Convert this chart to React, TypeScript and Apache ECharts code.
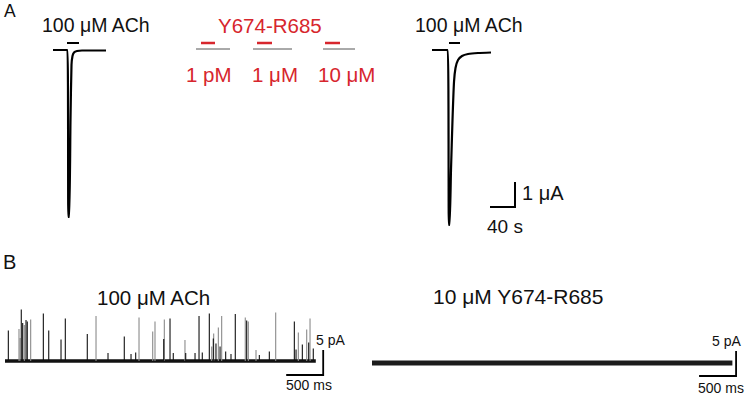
import React, { useEffect, useRef } from "react";
import * as echarts from "echarts";

// ---------- Panel A (time in s, current in µA) ----------
const achLeftTrace: [number, number][] = [
  [0, 0], [23.2, 0], [24.5, -6.68], [26.1, -6.68], [28, -2.8], [29.6, -0.6],
  [31.2, -0.24], [33.6, -0.1], [38.4, -0.04], [46.4, -0.02], [84.8, -0.02],
];
const achRightTrace: [number, number][] = [
  [606.4, 0], [631.7, 0], [633.3, -7.0], [634.6, -7.0], [636.8, -4.8], [639.2, -2.8],
  [641.6, -1.28], [644, -0.72], [648, -0.4], [654.4, -0.24], [664, -0.16],
  [680, -0.12], [700.8, -0.1],
];
const achApplications: [number, number][] = [[22.4, 41.6], [633.6, 651.2]];
const peptideApplications: [number, number][] = [[236.8, 259.2], [326.4, 350.4], [435.2, 459.2]];
const peptideTraces: [number, number][] = [[228.8, 283.2], [320, 382.4], [432, 483.2]];
const peptideDoses = ["1 pM", "1 \u03bcM", "10 \u03bcM"];
const scaleA = { t0: 699.2, t1: 739.2, v0: -6.28, v1: -5.28 }; // 40 s, 1 µA

// ---------- Panel B (time in ms, current in pA) ----------
const spikesDark: [number, number][] = [
  [45, 6.1], [220, 10.3], [239, 7.6], [284, 8.2], [301, 7.9], [518, 9.5], [591, 6.1],
  [757, 4.3], [815, 8.5], [1112, 5.4], [1392, 1.6], [1612, 4.9], [1703, 1.4], [1766, 1.7],
  [2145, 4.4], [2230, 8.5], [2274, 1.6], [2442, 1.6], [2568, 1.6], [2622, 9.0], [2666, 1.7],
  [2761, 9.5], [2815, 4.5], [2851, 3.5], [2906, 2.9], [2982, 1.9], [3054, 1.4], [3112, 9.4],
  [3266, 8.1], [3437, 1.2], [3572, 1.9], [3910, 7.9], [3933, 2.3], [4018, 3.3], [4104, 3.7],
  [4166, 2.5],
];
const spikesLight: [number, number][] = [
  [189, 6.4], [203, 4.6], [261, 7.2], [347, 8.3], [1230, 9.0], [1811, 8.7], [1996, 5.9],
  [2027, 7.9], [2153, 8.3], [2432, 4.2], [2793, 2.9], [2820, 5.5], [2883, 6.7], [2928, 9.0],
  [3247, 8.7], [3288, 7.9], [3392, 2.2], [3658, 9.7], [3964, 5.7], [4077, 6.3], [4122, 8.5],
];
const bLeftDuration = 4200;
const bRightDuration = 4870;
const scaleBLeft = { t0: 3800, t1: 4300, v0: -2.8, v1: 2.2 }; // 500 ms, 5 pA
const scaleBRight = { t0: 4420, t1: 4920, v0: -2.6, v1: 2.4 };

const RED = "#d7262d";
const FONT = "Liberation Sans";

function seg(data: [number, number][], grid: number, color: string, width: number, z = 2) {
  return {
    type: "line",
    xAxisIndex: grid,
    yAxisIndex: grid,
    data,
    symbol: "none",
    silent: true,
    z,
    lineStyle: { color, width, cap: "butt", join: "miter" },
  };
}

function spikeSeries(data: [number, number][], color: string) {
  return {
    type: "custom",
    xAxisIndex: 1,
    yAxisIndex: 1,
    silent: true,
    z: 3,
    encode: { x: 0, y: 1 },
    data,
    renderItem: (_p: any, api: any) => {
      const t = api.value(0);
      const a = api.value(1);
      const p0 = api.coord([t, 0]);
      const p1 = api.coord([t, a]);
      return {
        type: "line",
        shape: { x1: p0[0], y1: p0[1], x2: p1[0], y2: p1[1] },
        style: { stroke: color, lineWidth: 1.1 },
      };
    },
  };
}

function txt(text: string, x: number, y: number, size: number, color = "#111", align = "left") {
  return {
    type: "text",
    x,
    y,
    silent: true,
    style: { text, fill: color, fontSize: size, fontFamily: FONT, textAlign: align, textVerticalAlign: "middle" },
  };
}

export default function App() {
  const ref = useRef<HTMLDivElement>(null);
  useEffect(() => {
    if (!ref.current) return;
    const chart = echarts.init(ref.current, null, { renderer: "svg" });
    const hidden = { show: false };
    const series: any[] = [];
    // Panel A
    series.push({ ...seg(achLeftTrace, 0, "#000", 2.2), smooth: 0.2 });
    series.push({ ...seg(achRightTrace, 0, "#000", 2.2), smooth: 0.2 });
    achApplications.forEach(([a, b]) => series.push(seg([[a, 0.28], [b, 0.28]], 0, "#000", 2)));
    peptideApplications.forEach(([a, b]) => series.push(seg([[a, 0.28], [b, 0.28]], 0, RED, 2.4)));
    peptideTraces.forEach(([a, b]) => series.push(seg([[a, 0.04], [b, 0.04]], 0, "#555", 1)));
    series.push(seg([[scaleA.t0, scaleA.v0], [scaleA.t1, scaleA.v0], [scaleA.t1, scaleA.v1]], 0, "#000", 2));
    // Panel B left
    series.push(seg([[0, 0], [bLeftDuration, 0]], 1, "#111", 3.5));
    series.push(spikeSeries(spikesLight, "#8a8a8a"));
    series.push(spikeSeries(spikesDark, "#111"));
    series.push(seg([[scaleBLeft.t0, scaleBLeft.v0], [scaleBLeft.t1, scaleBLeft.v0], [scaleBLeft.t1, scaleBLeft.v1]], 1, "#000", 1.8));
    // Panel B right
    series.push(seg([[0, 0], [bRightDuration, 0]], 2, "#1c1c1c", 5));
    series.push(seg([[scaleBRight.t0, scaleBRight.v0], [scaleBRight.t1, scaleBRight.v0], [scaleBRight.t1, scaleBRight.v1]], 2, "#000", 1.8));

    const doseX = [186, 252, 318];
    chart.setOption({
      animation: false,
      backgroundColor: "#fff",
      grid: [
        { left: 53, top: 40, width: 480, height: 200 },
        { left: 5, top: 301, width: 370, height: 80 },
        { left: 372, top: 303, width: 370, height: 80 },
      ],
      xAxis: [
        { type: "value", gridIndex: 0, min: 0, max: 768, ...hidden },
        { type: "value", gridIndex: 1, min: 0, max: 5000, ...hidden },
        { type: "value", gridIndex: 2, min: 0, max: 5000, ...hidden },
      ],
      yAxis: [
        { type: "value", gridIndex: 0, min: -7.6, max: 0.4, ...hidden },
        { type: "value", gridIndex: 1, min: -4, max: 12, ...hidden },
        { type: "value", gridIndex: 2, min: -4, max: 12, ...hidden },
      ],
      series,
      graphic: [
        txt("A", 4, 11, 17.5),
        txt("100 \u03bcM ACh", 42, 25, 19.5),
        txt("Y674-R685", 218, 25, 20.5, RED),
        ...peptideDoses.map((d, i) => txt(d, doseX[i], 74, 20.5, RED)),
        txt("100 \u03bcM ACh", 415, 25, 19.5),
        txt("1 \u03bcA", 522, 193, 20),
        txt("40 s", 487, 226, 19),
        txt("B", 3, 262, 20),
        txt("100 \u03bcM ACh", 97, 297, 20.5),
        txt("10 \u03bcM Y674-R685", 433, 296, 21),
        txt("5 pA", 316, 340, 14),
        txt("500 ms", 286, 385, 14),
        txt("5 pA", 712, 341, 14),
        txt("500 ms", 698, 388, 14),
      ],
    });
    return () => chart.dispose();
  }, []);
  return <div ref={ref} style={{ position: "fixed", left: 0, top: 0, width: 752, height: 396 }} />;
}
